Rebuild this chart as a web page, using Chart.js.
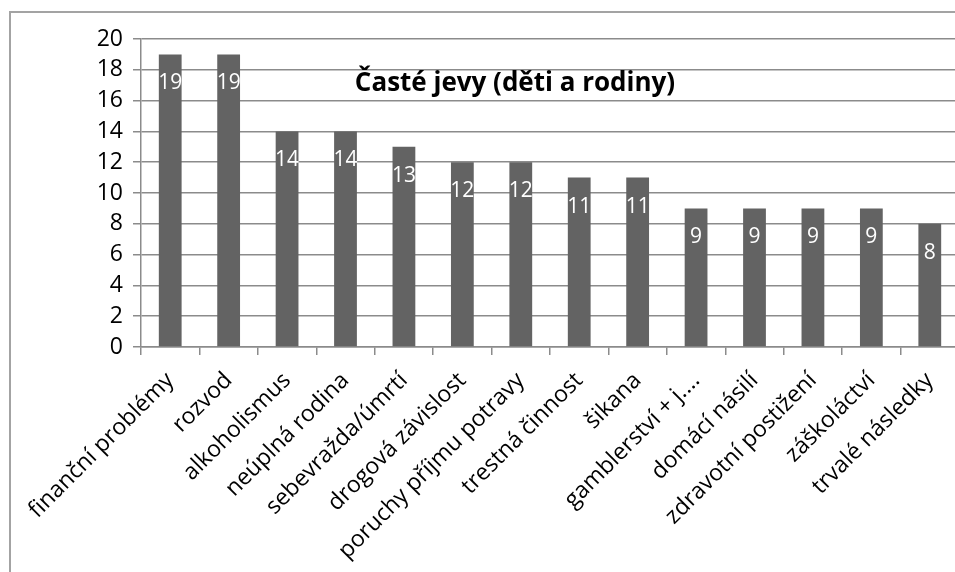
<!DOCTYPE html>
<html lang="cs">
<head>
<meta charset="utf-8">
<title>Časté jevy (děti a rodiny)</title>
<script src="https://cdn.jsdelivr.net/npm/chart.js@4"></script>
<style>
    html, body {
        margin: 0;
        padding: 0;
        background: #fff;
        overflow: hidden;
        width: 955px;
        height: 572px;
    }
    #frame {
        position: absolute;
        left: 9px;
        top: 11px;
        border-left: 2px solid #a3a3a3;
        border-top: 2px solid #a3a3a3;
    }
    #frame canvas {
        display: block;
    }
</style>
</head>
<body>
<div id="frame">
    <canvas id="jevyChart" width="960" height="600"></canvas>
</div>
<script>
    // Data
    const categories = [
        'finanční problémy', 'rozvod', 'alkoholismus', 'neúplná rodina',
        'sebevražda/úmrtí', 'drogová závislost', 'poruchy příjmu potravy',
        'trestná činnost', 'šikana', 'gamblerství + j....', 'domácí násilí',
        'zdravotní postižení', 'záškoláctví', 'trvalé následky'
    ];
    const counts = [19, 19, 14, 14, 13, 12, 12, 11, 11, 9, 9, 9, 9, 8];
    const yTicks = [0, 2, 4, 6, 8, 10, 12, 14, 16, 18, 20];
    const chartTitle = 'Časté jevy (děti a rodiny)';

    const gridColor = '#8b8b8b';
    const barColor = '#636363';
    const fontFamily = "'Open Sans', 'Liberation Sans', sans-serif";

    // Value labels inside the top of each bar
    const barLabels = {
        id: 'barLabels',
        afterDatasetsDraw(chart) {
            const ctx = chart.ctx;
            const meta = chart.getDatasetMeta(0);
            ctx.save();
            ctx.fillStyle = '#ffffff';
            ctx.font = '21px ' + fontFamily;
            ctx.textAlign = 'center';
            ctx.textBaseline = 'middle';
            meta.data.forEach(function(bar, i) {
                ctx.fillText(String(counts[i]), bar.x, bar.y + 29);
            });
            ctx.restore();
        }
    };

    // Title sits inside the plot area, like in the original
    const innerTitle = {
        id: 'innerTitle',
        afterDraw(chart) {
            const ctx = chart.ctx;
            ctx.save();
            ctx.fillStyle = '#000000';
            ctx.font = 'bold 26px ' + fontFamily;
            ctx.textAlign = 'center';
            ctx.textBaseline = 'middle';
            ctx.fillText(chartTitle, 504, 71);
            ctx.restore();
        }
    };

    new Chart(document.getElementById('jevyChart'), {
        type: 'bar',
        data: {
            labels: categories,
            datasets: [{
                data: counts,
                backgroundColor: barColor,
                borderWidth: 0,
                barPercentage: 0.39,
                categoryPercentage: 1.0
            }]
        },
        options: {
            responsive: false,
            animation: false,
            layout: {
                padding: { top: 26, right: 12, bottom: 0, left: 0 }
            },
            plugins: {
                legend: { display: false },
                title: { display: false },
                tooltip: { enabled: false }
            },
            scales: {
                x: {
                    offset: true,
                    grid: {
                        offset: true,
                        drawOnChartArea: false,
                        drawTicks: true,
                        tickLength: 8,
                        color: gridColor,
                        lineWidth: 1.5
                    },
                    border: { display: true, color: gridColor, width: 1.5 },
                    ticks: {
                        autoSkip: false,
                        minRotation: 45,
                        maxRotation: 45,
                        padding: 12,
                        color: '#000000',
                        font: { family: fontFamily, size: 23 }
                    },
                    afterFit: function(scale) {
                        scale.height = 266;
                    }
                },
                y: {
                    min: yTicks[0],
                    max: yTicks[yTicks.length - 1],
                    afterBuildTicks: function(scale) {
                        scale.ticks = yTicks.map(function(v) { return { value: v }; });
                    },
                    grid: {
                        color: gridColor,
                        lineWidth: 1.5,
                        tickLength: 8
                    },
                    border: { display: true, color: gridColor, width: 1.5 },
                    ticks: {
                        padding: 10,
                        color: '#000000',
                        font: { family: fontFamily, size: 23 }
                    },
                    afterFit: function(scale) {
                        scale.width = 130;
                    }
                }
            }
        },
        plugins: [barLabels, innerTitle]
    });
</script>
</body>
</html>
